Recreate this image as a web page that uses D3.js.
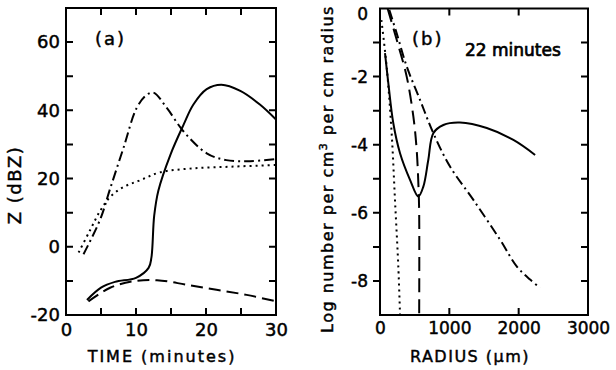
<!DOCTYPE html>
<html lang="en">
   <head>
      <title>Z and size spectra</title>
      <script src="https://d3js.org/d3.v7.min.js"></script>
      <style>
         body { margin: 0; background: white; }
         svg text { fill: black; font-family: "DejaVu Sans", sans-serif; stroke: black; stroke-width: 0.45px; }
         .frame { fill: none; stroke: black; stroke-width: 2px; }
         .curve { fill: none; stroke: black; stroke-width: 2px; }
      </style>
   </head>
   <body>
   <div id="chart"></div>
   <script>

      // ===== data, panel (a): reflectivity vs time =====
      var aTicksX = [0, 10, 20, 30];
      var aTicksY = [-20, 0, 20, 40, 60];
      var aSolidT = [3, 5, 7, 10, 11.8, 12.2, 12.6, 13.2, 14.9, 16.8, 18.2, 20.1, 22.2, 24.9, 27.7, 30];
      var aSolidZ = [-15.6, -12, -10.3, -9.1, -6.2, -3.2, 9.1, 16.5, 26.9, 35.8, 41.7, 46.2, 47.5, 45.7, 41.7, 37.3];
      var aDashDotT = [2.5, 4.9, 6.3, 8.2, 10.1, 11.5, 12.5, 14.4, 16.8, 20.1, 22.9, 26.3, 30];
      var aDashDotZ = [-2.2, 8.1, 17, 28.9, 40.7, 44.5, 45.2, 40.7, 33.8, 27.4, 25.4, 25.1, 25.7];
      var aDotT = [1.8, 3.4, 4.9, 6.3, 8.2, 10.6, 13.4, 18.2, 23.9, 30];
      var aDotZ = [-1.7, 4.7, 10.6, 14.6, 17.5, 19.5, 21.8, 23, 23.5, 24];
      var aDashT = [3.2, 6.3, 9.6, 13, 17.2, 21.5, 25.8, 30];
      var aDashZ = [-16, -12, -10.1, -9.8, -11.1, -12.6, -14.1, -16];

      // ===== data, panel (b): size distribution at 22 minutes =====
      var bTicksX = [0, 1000, 2000, 3000];
      var bTicksY = [0, -2, -4, -6, -8];
      var bSolidR = [72, 120, 192, 289, 433, 553, 625, 697, 769, 914, 1154, 1540, 1924, 2237];
      var bSolidL = [-1.31, -2.19, -3.37, -4.25, -5.03, -5.52, -5.23, -4.44, -3.66, -3.42, -3.35, -3.51, -3.86, -4.3];
      var bDashDotR = [134, 241, 385, 577, 769, 1010, 1347, 1732, 1972, 2165, 2309];
      var bDashDotL = [-0.04, -0.73, -1.7, -2.68, -3.66, -4.64, -5.62, -6.79, -7.57, -7.96, -8.2];
      var bDashR = [110, 241, 385, 481, 529, 555, 565, 565];
      var bDashL = [0, -0.92, -2.0, -3.17, -4.15, -5.23, -6, -9];
      var bDotR = [20, 96, 168, 216, 264, 289];
      var bDotL = [-0.34, -1.71, -3.66, -5.62, -7.57, -9];

      var width = 616;
      var height = 370;

      var svg = d3.select("#chart")
                  .append("svg")
                  .attr("width", width)
                  .attr("height", height);

      function zip(xs, ys) {
         return xs.map(function(x, i) { return [x, ys[i]]; });
      }

      // draws frame + ticks, labels and curves for one panel
      function drawPanel(x, y, opt) {
         var g = svg.append("g");
         var x0 = x.range()[0], x1 = x.range()[1];
         var y0 = y.range()[0], y1 = y.range()[1];
         var len = 7;

         // tick labels
         g.append("g").attr("transform", "translate(0," + y0 + ")")
            .call(d3.axisBottom(x).tickValues(opt.labX).tickSize(0).tickPadding(opt.padX).tickFormat(d3.format("d")));
         var ly = g.append("g").attr("transform", "translate(" + x0 + ",0)")
            .call(d3.axisLeft(y).tickValues(opt.labY).tickSize(0).tickPadding(opt.padY).tickFormat(function(d) { return ("" + d).replace("\u2212", "-"); }));
         g.selectAll(".domain").remove();
         g.selectAll("text").attr("font-family", null).style("font-size", opt.fontSize + "px");
         // top label of panel b sits a little below its tick
         if (opt.leftOut) {
            ly.selectAll(".tick text").filter(function(d) { return d === y.domain()[1]; }).attr("dy", "0.62em");
         }

         // frame outline and tick marks in one path (inward, except panel b's left side)
         var p = d3.path();
         p.rect(x0, y1, x1 - x0, y0 - y1);
         opt.minorX.forEach(function(d) {
            p.moveTo(x(d), y0); p.lineTo(x(d), y0 - len);
            p.moveTo(x(d), y1); p.lineTo(x(d), y1 + len);
         });
         opt.minorY.forEach(function(d) {
            p.moveTo(x0, y(d)); p.lineTo(opt.leftOut ? x0 - len : x0 + len, y(d));
            p.moveTo(x1, y(d)); p.lineTo(x1 - len, y(d));
         });
         g.append("path")
            .attr("class", "frame")
            .attr("d", p.toString());

         var line = d3.line()
            .x(function(d) { return x(d[0]); })
            .y(function(d) { return y(d[1]); })
            .curve(d3.curveCatmullRom.alpha(0.5));

         opt.curves.forEach(function(c) {
            g.append("path")
               .attr("class", "curve")
               .attr("d", line(c.pts))
               .attr("stroke-dasharray", c.dash);
         });
         return g;
      }

      // ---- panel (a) ----
      var xA = d3.scaleLinear().domain([0, 30]).range([66, 276]);
      var yA = d3.scaleLinear().domain([-20, 70]).range([315, 8]);
      drawPanel(xA, yA, {
         minorX: [5, 10, 15, 20, 25],
         minorY: [-10, 0, 10, 20, 30, 40, 50, 60],
         labX: aTicksX, labY: aTicksY,
         padX: 8, padY: 6, fontSize: 18, leftOut: false,
         curves: [
            { pts: zip(aSolidT, aSolidZ), dash: null },
            { pts: zip(aDashDotT, aDashDotZ), dash: "10,4,2,4" },
            { pts: zip(aDotT, aDotZ), dash: "2,4" },
            { pts: zip(aDashT, aDashZ), dash: "12,6" }
         ]
      });

      // ---- panel (b) ----
      var xB = d3.scaleLinear().domain([0, 3000]).range([380, 588]);
      var yB = d3.scaleLinear().domain([-9, 0]).range([315, 8.5]);
      drawPanel(xB, yB, {
         minorX: [1000, 2000],
         minorY: [-8, -7, -6, -5, -4, -3, -2, -1],
         labX: bTicksX, labY: bTicksY,
         padX: 7, padY: 12, fontSize: 17, leftOut: true,
         curves: [
            { pts: zip(bSolidR, bSolidL), dash: null },
            { pts: zip(bDashDotR, bDashDotL), dash: "10,4,2,4" },
            { pts: zip(bDotR, bDotL), dash: "2,4" },
            { pts: zip(bDashR, bDashL), dash: "14,7" }
         ]
      });

      // ---- titles and panel labels ----
      svg.append("text")
         .attr("x", 162).attr("y", 362)
         .attr("text-anchor", "middle")
         .style("font-size", "16px").style("letter-spacing", "2px")
         .text("TIME  (minutes)");

      svg.append("text")
         .attr("x", 470).attr("y", 362)
         .attr("text-anchor", "middle")
         .style("font-size", "16px").style("letter-spacing", "1.5px")
         .text("RADIUS  (\u03bcm)");

      svg.append("text")
         .attr("transform", "translate(21,185) rotate(-90)")
         .attr("text-anchor", "middle")
         .style("font-size", "18px").style("letter-spacing", "1.5px")
         .text("Z  (dBZ)");

      var ylab = svg.append("text")
         .attr("transform", "translate(333,169) rotate(-90)")
         .attr("text-anchor", "middle")
         .style("font-size", "16px").style("letter-spacing", "1.5px");
      ylab.append("tspan").text("Log number per cm");
      ylab.append("tspan").attr("dy", -6).style("font-size", "11px").text("3");
      ylab.append("tspan").attr("dy", 6).text(" per cm radius");

      svg.append("text").attr("x", 95).attr("y", 45).style("font-size", "18px").style("letter-spacing", "2px").text("(a)");
      svg.append("text").attr("x", 412).attr("y", 45).style("font-size", "18px").style("letter-spacing", "2px").text("(b)");
      svg.append("text").attr("x", 465).attr("y", 56).style("font-size", "17px").style("stroke-width", "0.7px").text("22 minutes");

   </script>
   </body>
</html>
